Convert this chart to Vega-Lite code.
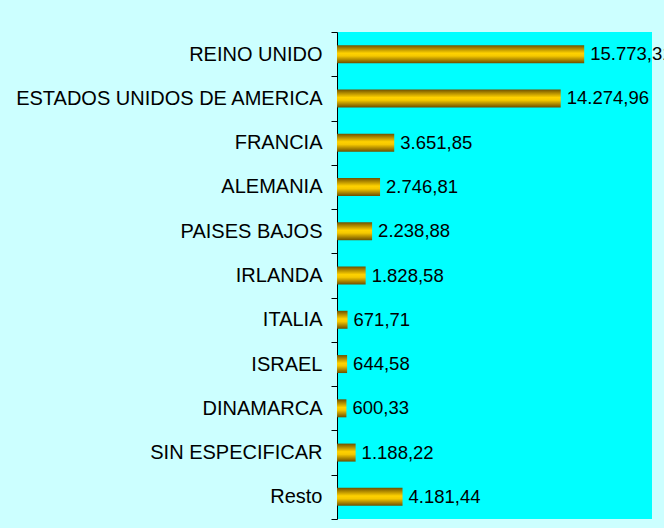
{
  "$schema": "https://vega.github.io/schema/vega-lite/v6.json",
  "autosize": {"type": "none"},
  "padding": {"left": 337, "top": 32, "right": 12, "bottom": 9},
  "width": 315,
  "height": 487,
  "background": "#CCFFFF",
  "config": {
    "view": {"fill": "#00FFFF", "stroke": null},
    "locale": {
      "number": {"decimal": ",", "thousands": ".", "grouping": [3], "currency": ["", " €"]}
    },
    "font": "Liberation Sans"
  },
  "data": {
    "values": [
      {"pais": "REINO UNIDO", "valor": 15773.31},
      {"pais": "ESTADOS UNIDOS DE AMERICA", "valor": 14274.96},
      {"pais": "FRANCIA", "valor": 3651.85},
      {"pais": "ALEMANIA", "valor": 2746.81},
      {"pais": "PAISES BAJOS", "valor": 2238.88},
      {"pais": "IRLANDA", "valor": 1828.58},
      {"pais": "ITALIA", "valor": 671.71},
      {"pais": "ISRAEL", "valor": 644.58},
      {"pais": "DINAMARCA", "valor": 600.33},
      {"pais": "SIN ESPECIFICAR", "valor": 1188.22},
      {"pais": "Resto", "valor": 4181.44}
    ]
  },
  "encoding": {
    "y": {
      "field": "pais",
      "type": "nominal",
      "sort": null,
      "scale": {"paddingInner": 0, "paddingOuter": 0},
      "axis": {
        "title": null,
        "domain": true,
        "domainColor": "#000000",
        "domainWidth": 1,
        "ticks": true,
        "tickBand": "extent",
        "tickColor": "#000000",
        "tickWidth": 1,
        "tickSize": 6,
        "labelFont": "Liberation Sans",
        "labelFontSize": 20,
        "labelColor": "#000000",
        "labelPadding": 9,
        "labelLimit": 400,
        "grid": false
      }
    },
    "x": {
      "field": "valor",
      "type": "quantitative",
      "scale": {"domain": [0, 20100], "nice": false},
      "axis": null
    }
  },
  "layer": [
    {
      "mark": {
        "type": "bar",
        "size": 18,
        "color": {
          "gradient": "linear",
          "x1": 0, "y1": 0, "x2": 0, "y2": 1,
          "stops": [
            {"offset": 0, "color": "#6E5000"},
            {"offset": 0.2, "color": "#B08A00"},
            {"offset": 0.45, "color": "#FFD200"},
            {"offset": 0.6, "color": "#F5C800"},
            {"offset": 0.85, "color": "#A07C00"},
            {"offset": 1, "color": "#6E5000"}
          ]
        }
      }
    },
    {
      "mark": {
        "type": "text",
        "align": "left",
        "baseline": "middle",
        "dx": 6,
        "font": "Liberation Sans",
        "fontSize": 18.5,
        "color": "#000000"
      },
      "encoding": {
        "text": {"field": "valor", "type": "quantitative", "format": ",.2f"}
      }
    }
  ]
}
